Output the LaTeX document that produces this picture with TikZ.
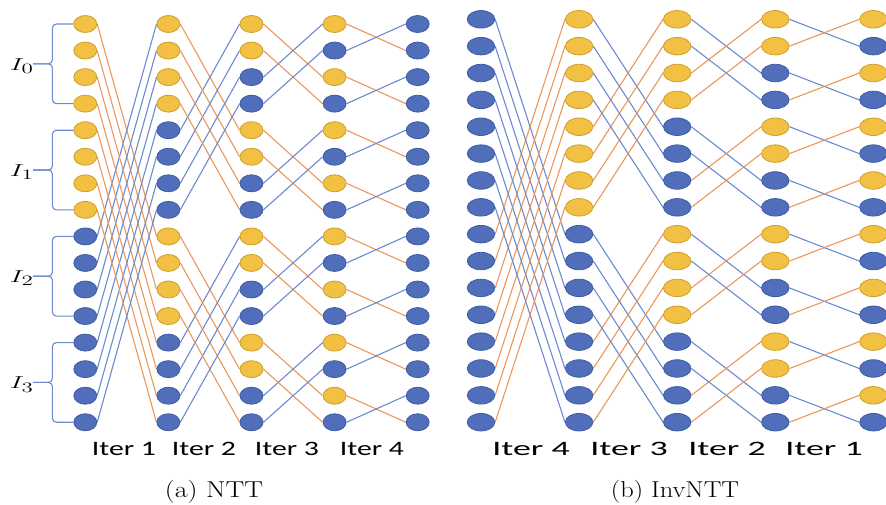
\documentclass[tikz,border=0pt]{standalone}
\usepackage{fontspec}
\newfontfamily\iterfont{Carlito}
\usetikzlibrary{shapes.geometric}
\definecolor{ygold}{RGB}{242,192,66}
\definecolor{ygoldd}{RGB}{205,160,45}
\definecolor{nblue}{RGB}{80,110,186}
\definecolor{nblued}{RGB}{62,92,165}
\definecolor{lorange}{RGB}{236,150,92}
\definecolor{lblue}{RGB}{108,138,208}
\pgfdeclarelayer{bg}
\pgfsetlayers{bg,main}
\tikzset{
  dotA/.style={ellipse, inner sep=0pt, minimum width=23pt, minimum height=17pt, line width=0.8pt},
  dotB/.style={ellipse, inner sep=0pt, minimum width=27.5pt, minimum height=17.5pt, line width=0.8pt},
  yfill/.style={fill=ygold, draw=ygoldd},
  bfill/.style={fill=nblue, draw=nblued},
  oline/.style={draw=lorange, line width=1.1pt},
  bline/.style={draw=lblue, line width=1.1pt},
  brc/.style={draw=lblue, line width=1.1pt, rounded corners=4pt},
  iterlab/.style={font=\iterfont\fontsize{20.5}{24}\selectfont, inner sep=0pt},
  caplab/.style={font=\fontsize{23}{27}\selectfont, inner sep=0pt},
  idxlab/.style={font=\fontsize{19}{22}\selectfont, inner sep=0pt, anchor=east},
}
\begin{document}
\begin{tikzpicture}[x=1pt, y=-1pt]
\useasboundingbox (0,0) rectangle (886,504);

% ---------------- NTT: five columns of sixteen coefficients
\foreach \c in {0,...,4}{
  \foreach \r in {0,...,15}{
    \pgfmathtruncatemacro\yel{(\c<4)*(mod(\r,2^(4-\c))<2^(3-\c))}
    \ifnum\yel=1 \def\sty{yfill}\else\def\sty{bfill}\fi
    \node[dotA, \sty] (a-\c-\r) at ({85.3+83.1*\c}, {24+26.55*\r}) {};
  }
}
% butterflies, stride halves from 8 down to 1
\begin{pgfonlayer}{bg}
\foreach \c in {0,...,3}{
  \pgfmathtruncatemacro\d{2^(3-\c)}
  \pgfmathtruncatemacro\n{\c+1}
  \foreach \r in {0,...,15}{
    \pgfmathtruncatemacro\up{mod(\r,2*\d)<\d}
    \ifnum\up=1
      \pgfmathtruncatemacro\s{\r+\d}
      \draw[oline] (a-\c-\r.east) -- (a-\n-\s.west);
      \draw[bline] (a-\c-\s.east) -- (a-\n-\r.west);
    \fi
  }
}
\end{pgfonlayer}

% input groups I_0 .. I_3
\foreach \k in {0,...,3}{
  \pgfmathtruncatemacro\t{4*\k}
  \pgfmathtruncatemacro\b{4*\k+3}
  \coordinate (tip-\k) at (33, {24+26.55*(4*\k+1.5)});
  \node[idxlab] (I-\k) at ([xshift=1pt,yshift=-2pt]tip-\k) {\scalebox{1.6}[1]{$I_{\k}$}};
  \draw[brc] (a-0-\t.west) -- ++(-21,0) |- (tip-\k);
  \draw[brc] (a-0-\b.west) -- ++(-21,0) |- (tip-\k);
}

\node[iterlab] (ia1) at (124,449) {\scalebox{1.45}[1]{Iter 1}};
\node[iterlab] (ia2) at (204,449) {\scalebox{1.45}[1]{Iter 2}};
\node[iterlab] (ia3) at (287,449) {\scalebox{1.45}[1]{Iter 3}};
\node[iterlab] (ia4) at (372,449) {\scalebox{1.45}[1]{Iter 4}};
\node[caplab] (capa) at (214,492) {\scalebox{1.22}[1]{(a) NTT}};

% ---------------- InvNTT: five columns of sixteen coefficients
\foreach \c in {0,...,4}{
  \foreach \r in {0,...,15}{
    \pgfmathtruncatemacro\yel{(\c>0)*(mod(\r,2^(5-\c))<2^(4-\c))}
    \ifnum\yel=1 \def\sty{yfill}\else\def\sty{bfill}\fi
    \node[dotB, \sty] (b-\c-\r) at ({481+98.1*\c}, {19.3+26.86*\r}) {};
  }
}
\begin{pgfonlayer}{bg}
\foreach \c in {0,...,3}{
  \pgfmathtruncatemacro\d{2^(3-\c)}
  \pgfmathtruncatemacro\n{\c+1}
  \foreach \r in {0,...,15}{
    \pgfmathtruncatemacro\up{mod(\r,2*\d)<\d}
    \ifnum\up=1
      \pgfmathtruncatemacro\s{\r+\d}
      \draw[bline] (b-\c-\r.east) -- (b-\n-\s.west);
      \draw[oline] (b-\c-\s.east) -- (b-\n-\r.west);
    \fi
  }
}
\end{pgfonlayer}

\node[iterlab] (ib4) at (531,449) {\scalebox{1.75}[1]{Iter 4}};
\node[iterlab] (ib3) at (629,449) {\scalebox{1.75}[1]{Iter 3}};
\node[iterlab] (ib2) at (727,449) {\scalebox{1.75}[1]{Iter 2}};
\node[iterlab] (ib1) at (824,449) {\scalebox{1.75}[1]{Iter 1}};
\node[caplab] (capb) at (675,492) {\scalebox{1.15}[1]{(b) InvNTT}};
\end{tikzpicture}
\end{document}
